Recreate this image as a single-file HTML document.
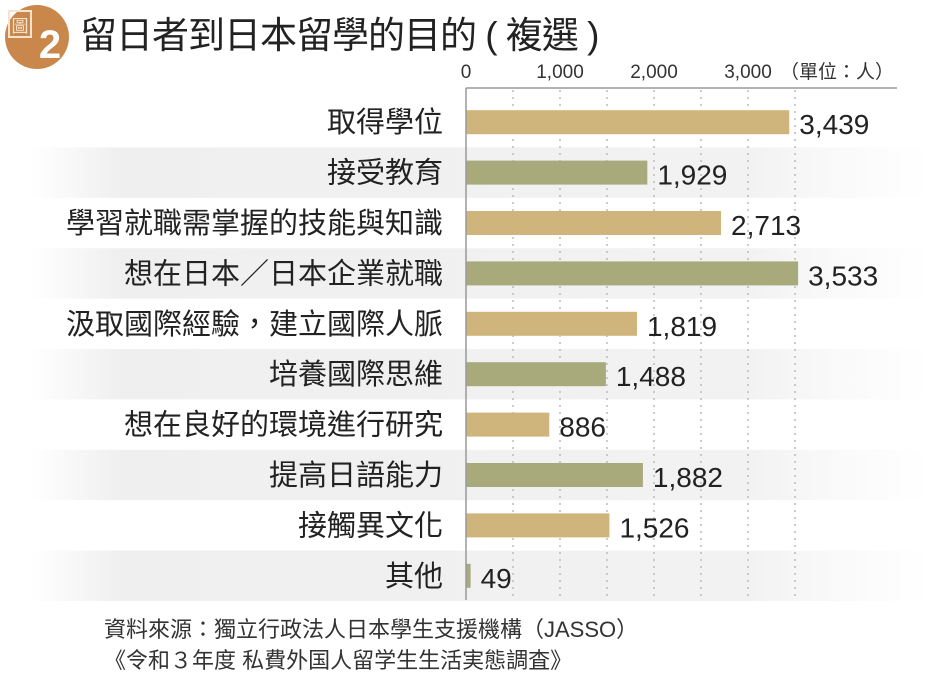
<!DOCTYPE html>
<html><head><meta charset="utf-8"><style>
body{margin:0;background:#fff;width:950px;height:680px;overflow:hidden;font-family:"Liberation Sans","Noto Sans CJK TC",sans-serif;}
</style></head><body>
<svg id="chart" width="950" height="680" xmlns="http://www.w3.org/2000/svg" font-family="'Liberation Sans','Noto Sans CJK TC',sans-serif">
<defs>
<linearGradient id="band" x1="0" x2="1" y1="0" y2="0">
<stop offset="0" stop-color="#f0f0f0" stop-opacity="0"/>
<stop offset="0.1" stop-color="#efefef" stop-opacity="1"/>
<stop offset="0.8" stop-color="#f2f2f2" stop-opacity="1"/>
<stop offset="1" stop-color="#f6f6f6" stop-opacity="0"/>
</linearGradient>
</defs>
<g>
<circle cx="37" cy="37" r="32" fill="#c9874c"/>
<rect x="9" y="11" width="22" height="26" fill="none" stroke="#f4e3cf" stroke-width="2"/>
<text x="20" y="32" font-size="17" fill="#f4e3cf" text-anchor="middle">圖</text>
<text x="50" y="58" font-size="40" font-weight="bold" fill="#fff" text-anchor="middle">2</text>
</g>
<text x="80" y="48" font-size="37" fill="#222" letter-spacing="-1">留日者到日本留學的目的 ( 複選 )</text>
<g id="bands"></g>
<g id="grid"></g>
<g id="bars"></g>
<line x1="466" y1="88" x2="897" y2="88" stroke="#999" stroke-width="1.5"/>
<line x1="466" y1="88" x2="466" y2="600" stroke="#999" stroke-width="1.5"/>
<g id="ticks"></g>
<text x="780" y="78" font-size="19" fill="#333">（單位：人）</text>
<text x="104" y="637" font-size="22" fill="#333">資料來源：獨立行政法人日本學生支援機構（JASSO）</text>
<text x="104" y="668" font-size="22" fill="#333">《令和３年度 私費外国人留学生生活実態調査》</text>
</svg>
<script>
const categories=["取得學位","接受教育","學習就職需掌握的技能與知識","想在日本／日本企業就職","汲取國際經驗，建立國際人脈","培養國際思維","想在良好的環境進行研究","提高日語能力","接觸異文化","其他"];
const values=[3439,1929,2713,3533,1819,1488,886,1882,1526,49];
const valueLabels=["3,439","1,929","2,713","3,533","1,819","1,488","886","1,882","1,526","49"];
const tickValues=[0,1000,2000,3000];
const tickLabels=["0","1,000","2,000","3,000"];
const gridValues=[500,1000,1500,2000,2500,3000,3500];
const NS="http://www.w3.org/2000/svg";
const x0=466, pxPer=0.094, topY=97, rowH=50.4, barH=24;
const xs=v=>x0+v*pxPer;
const yc=i=>topY+rowH*i+rowH/2;
function mk(tag,attrs,parent){const e=document.createElementNS(NS,tag);for(const k in attrs)e.setAttribute(k,attrs[k]);parent.appendChild(e);return e;}
const gB=document.getElementById('bands'),gG=document.getElementById('grid'),gBar=document.getElementById('bars'),gT=document.getElementById('ticks');
categories.forEach((c,i)=>{
  if(i%2===1){const b=mk('rect',{x:30,y:topY+rowH*i,width:900,height:rowH,fill:'url(#band)'},gB);
  
  }
});
gridValues.forEach(v=>{
  const l=mk('line',{x1:xs(v),y1:90,x2:xs(v),y2:600,stroke:'#bbb','stroke-width':1.5,'stroke-dasharray':'2 5'},gG);
  
  
});
tickValues.forEach((v,i)=>{
  const t=mk('text',{x:xs(v),y:78,'font-size':19,fill:'#333','text-anchor':'middle'},gT);
  t.textContent=tickLabels[i];
  
  
});
categories.forEach((c,i)=>{
  const y=yc(i);
  const lab=mk('text',{x:443,y:y+10,'font-size':29,fill:'#222','text-anchor':'end'},gBar);
  lab.textContent=c;
  
  
  const r=mk('rect',{x:x0,y:y-barH/2,width:Math.max(xs(values[i])-x0,1),height:barH,fill:i%2===0?'#cfb57b':'#a8aa7b'},gBar);
  
  
  const vt=mk('text',{x:xs(values[i])+10,y:y+12,'font-size':28,fill:'#222'},gBar);
  vt.textContent=valueLabels[i];
  
  
});
</script>
</body></html>
